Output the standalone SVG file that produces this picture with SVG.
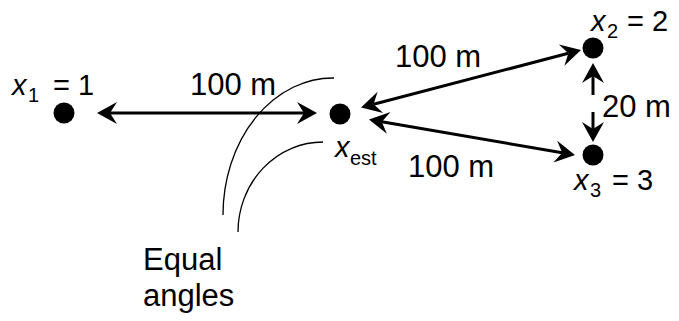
<svg xmlns="http://www.w3.org/2000/svg" width="679" height="321" viewBox="0 0 679 321">
<style>
text{font-family:"Liberation Sans",Arial,sans-serif;fill:#000}
.lbl{font-size:31px}
.nl{font-size:29px}
.sub{font-size:20px}
.it{font-style:italic}
.dot{fill:#000}
.arr{stroke:#000;stroke-width:3;fill:none;marker-start:url(#ah);marker-end:url(#ah)}
.arc{stroke:#000;stroke-width:1.3;fill:none}
</style>
<defs>
<marker id="ah" markerUnits="userSpaceOnUse" viewBox="-8 -12 22 24" markerWidth="22" markerHeight="24" refX="0" refY="0" orient="auto-start-reverse" overflow="visible">
<path d="M13,0 L-7,-11 L0,0 L-7,11 Z" fill="#000"/>
</marker>
</defs>
<rect width="679" height="321" fill="#fff"/>
<g id="connectors">
<line class="arr" x1="110" y1="113" x2="304" y2="113"/>
<line class="arr" x1="373.6" y1="104.2" x2="568.4" y2="53.3"/>
<line class="arr" x1="381.8" y1="121.7" x2="562.2" y2="152.8"/>
<path class="arr" d="M593,76 L593,95 M593,112 L593,129"/>
<path class="arc" d="M334,78 A110,137 0 0 0 223,215"/>
<path class="arc" d="M323,142 A85,90 0 0 0 238,232"/>
</g>
<g id="node-x1">
<circle class="dot" cx="64" cy="113" r="10.5"/>
<text class="nl" x="12" y="95"><tspan class="it">x</tspan><tspan class="sub" x="28" dy="7">1</tspan><tspan x="53" dy="-7">= 1</tspan></text>
</g>
<g id="node-xest">
<circle class="dot" cx="340" cy="114" r="10.5"/>
<text class="nl" x="335" y="157"><tspan class="it">x</tspan><tspan class="sub" x="350" dy="8">est</tspan></text>
</g>
<g id="node-x2">
<circle class="dot" cx="593" cy="48" r="10.5"/>
<text class="nl" x="591" y="31"><tspan class="it">x</tspan><tspan class="sub" x="607" dy="7">2</tspan><tspan x="627" dy="-7">= 2</tspan></text>
</g>
<g id="node-x3">
<circle class="dot" cx="593" cy="155" r="10.5"/>
<text class="nl" x="574" y="190"><tspan class="it">x</tspan><tspan class="sub" x="590" dy="7">3</tspan><tspan x="612" dy="-7">= 3</tspan></text>
</g>
<g id="labels">
<text class="lbl" x="190" y="95">100 m</text>
<text class="lbl" x="395" y="67">100 m</text>
<text class="lbl" x="408" y="177">100 m</text>
<text class="lbl" x="602" y="117">20 m</text>
<text class="lbl" x="143" y="270">Equal</text>
<text class="lbl" x="143" y="306">angles</text>
</g>
</svg>
